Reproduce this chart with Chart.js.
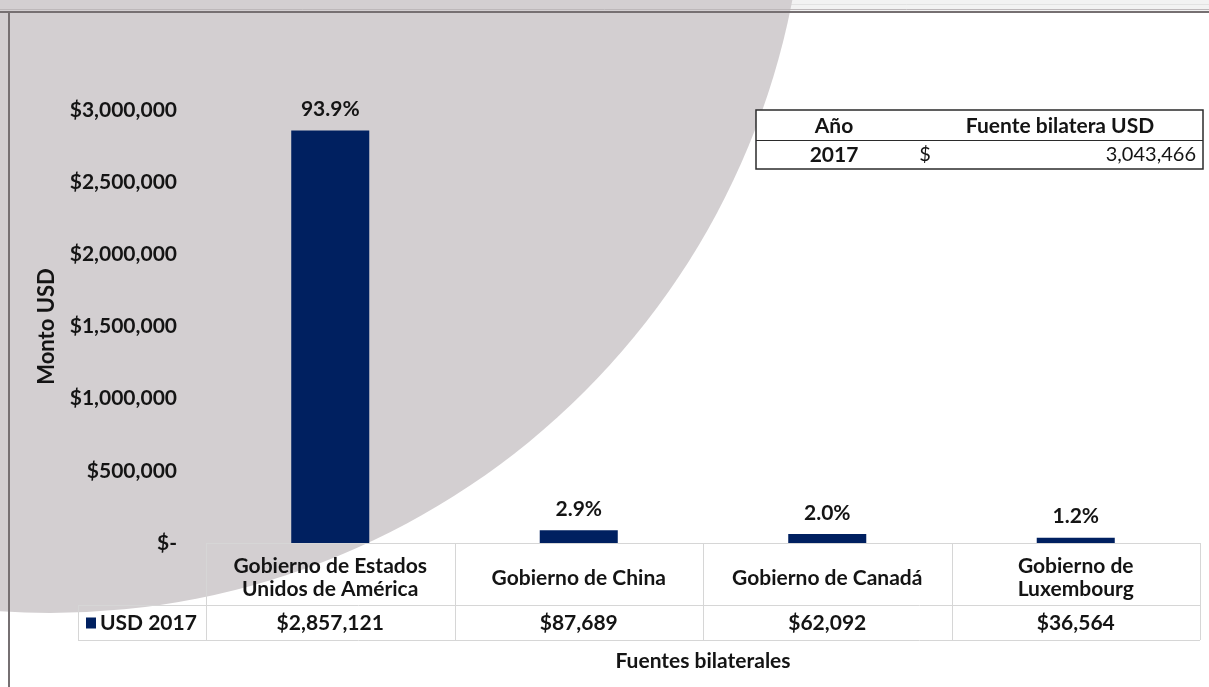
<!DOCTYPE html>
<html>
<head>
<meta charset="utf-8">
<script src="https://cdn.jsdelivr.net/npm/chart.js@4.4.1/dist/chart.umd.min.js"></script>
<style>
  html, body { margin: 0; padding: 0; background: #fff; overflow: hidden; }
  #wrap { position: relative; width: 1209px; height: 687px; }
  canvas { display: block; }
</style>
</head>
<body>
<div id="wrap"><canvas id="c" width="1209" height="687" style="width:1209px;height:687px"></canvas></div>
<script>
// Bilateral funding sources, 2017 (USD)
const categories = [
  ['Gobierno de Estados', 'Unidos de América'],
  ['Gobierno de China'],
  ['Gobierno de Canadá'],
  ['Gobierno de', 'Luxembourg']
];
const usd2017 = [2857121, 87689, 62092, 36564];
const seriesName = 'USD 2017';
const yTicks = [0, 500000, 1000000, 1500000, 2000000, 2500000, 3000000];
const yTitle = 'Monto USD';
const xTitle = 'Fuentes bilaterales';
const summaryHeader = ['Año', 'Fuente bilatera USD'];
const summaryYear = '2017';
const summaryTotal = 3043466;

const FONT = 'Lato, "Open Sans", sans-serif';
const NAVY = '#002060';
const INK = '#141414';
const GRIDLINE = '#d6d6d6';

const fmtMoney = v => v === 0 ? '$-' : '$' + v.toLocaleString('en-US');
const fmtPct = v => (v / summaryTotal * 100).toFixed(1) + '%';

// Page backdrop: frame lines and the large grey disc behind the plot
const backdrop = {
  id: 'backdrop',
  beforeDraw(chart) {
    const ctx = chart.ctx;
    const W = chart.width, H = chart.height;
    ctx.save();
    ctx.fillStyle = '#ffffff';
    ctx.fillRect(0, 0, W, H);
    ctx.fillStyle = '#f2f2f2';
    ctx.fillRect(0, 0, W, 11);
    ctx.strokeStyle = '#e2e2e2';
    ctx.lineWidth = 1;
    ctx.beginPath(); ctx.moveTo(0, 4.5); ctx.lineTo(W, 4.5); ctx.stroke();
    // grey disc
    ctx.fillStyle = '#d3cfd1';
    ctx.beginPath();
    ctx.arc(50, -143, 756, 0, Math.PI * 2);
    ctx.fill();
    // frame
    ctx.strokeStyle = '#767072';
    ctx.lineWidth = 2;
    ctx.beginPath(); ctx.moveTo(0, 12); ctx.lineTo(W, 12); ctx.stroke();
    ctx.beginPath(); ctx.moveTo(9, 12); ctx.lineTo(9, H); ctx.stroke();
    ctx.strokeStyle = '#bdb8ba';
    ctx.lineWidth = 1;
    ctx.beginPath(); ctx.moveTo(0, 9.5); ctx.lineTo(W, 9.5); ctx.stroke();
    ctx.restore();
  }
};

// Value labels, data table, axis titles and the summary box
const annotations = {
  id: 'annotations',
  afterDatasetsDraw(chart) {
    const ctx = chart.ctx;
    const area = chart.chartArea;
    const xs = chart.scales.x;
    const meta = chart.getDatasetMeta(0);
    ctx.save();
    ctx.fillStyle = INK;
    ctx.textAlign = 'center';
    ctx.textBaseline = 'middle';

    // percentage share above each bar
    ctx.font = 'bold 21px ' + FONT;
    meta.data.forEach((bar, i) => {
      ctx.fillText(fmtPct(usd2017[i]), bar.x, bar.y - 21);
    });

    // data table under the plot
    const step = xs.getPixelForValue(1) - xs.getPixelForValue(0);
    const edges = categories.map((_, i) => xs.getPixelForValue(i) - step / 2);
    edges.push(xs.getPixelForValue(categories.length - 1) + step / 2);
    const top = area.bottom;
    const mid = top + 62;
    const bot = mid + 35;
    const legendLeft = 78;

    ctx.strokeStyle = GRIDLINE;
    ctx.lineWidth = 1;
    ctx.beginPath();
    ctx.moveTo(edges[0], top + 0.5); ctx.lineTo(edges[edges.length - 1], top + 0.5);
    ctx.moveTo(legendLeft, mid + 0.5); ctx.lineTo(edges[edges.length - 1], mid + 0.5);
    ctx.moveTo(legendLeft, bot + 0.5); ctx.lineTo(edges[edges.length - 1], bot + 0.5);
    edges.forEach(x => { ctx.moveTo(Math.round(x) + 0.5, top); ctx.lineTo(Math.round(x) + 0.5, bot); });
    ctx.moveTo(legendLeft + 0.5, mid); ctx.lineTo(legendLeft + 0.5, bot);
    ctx.stroke();

    ctx.fillStyle = INK;
    ctx.font = 'bold 21px ' + FONT;
    categories.forEach((lines, i) => {
      const cx = xs.getPixelForValue(i);
      const cy = top + 35;
      const lh = 23;
      lines.forEach((t, k) => {
        ctx.fillText(t, cx, cy + (k - (lines.length - 1) / 2) * lh);
      });
      ctx.fillText(fmtMoney(usd2017[i]), cx, (mid + bot) / 2 + 1);
    });

    // legend key in the table
    ctx.fillStyle = NAVY;
    ctx.fillRect(86, (mid + bot) / 2 - 5, 10, 11);
    ctx.fillStyle = INK;
    ctx.textAlign = 'left';
    ctx.fillText(seriesName, 100, (mid + bot) / 2 + 1);

    // axis titles
    ctx.textAlign = 'center';
    ctx.font = 'bold 21px ' + FONT;
    ctx.fillText(xTitle, (area.left + area.right) / 2, bot + 21);
    ctx.save();
    ctx.translate(47, (area.top + area.bottom) / 2);
    ctx.rotate(-Math.PI / 2);
    ctx.font = 'bold 22px ' + FONT;
    ctx.fillText(yTitle, 0, 0);
    ctx.restore();

    // summary box
    const bx = 756, by = 110, bw = 447, bh = 59, rowH = 30;
    ctx.fillStyle = '#ffffff';
    ctx.fillRect(bx, by, bw, bh);
    ctx.strokeStyle = '#2b2b2b';
    ctx.lineWidth = 1.5;
    ctx.strokeRect(bx, by, bw, bh);
    ctx.lineWidth = 1;
    ctx.beginPath(); ctx.moveTo(bx, by + rowH + 0.5); ctx.lineTo(bx + bw, by + rowH + 0.5); ctx.stroke();
    ctx.fillStyle = INK;
    ctx.font = 'bold 21px ' + FONT;
    ctx.fillText(summaryHeader[0], 834, by + 16);
    ctx.fillText(summaryHeader[1], 1060, by + 16);
    ctx.fillText(summaryYear, 834, by + rowH + 15);
    ctx.font = '20px ' + FONT;
    ctx.fillText('$', 925, by + rowH + 15);
    ctx.textAlign = 'right';
    ctx.fillText(summaryTotal.toLocaleString('en-US'), 1196, by + rowH + 15);
    ctx.restore();
  }
};

new Chart(document.getElementById('c'), {
  type: 'bar',
  data: {
    labels: categories,
    datasets: [{
      label: seriesName,
      data: usd2017,
      backgroundColor: NAVY,
      borderWidth: 0,
      categoryPercentage: 1,
      barPercentage: 0.314
    }]
  },
  options: {
    responsive: false,
    animation: false,
    devicePixelRatio: 1,
    layout: { padding: { left: 0, right: 9, top: 110, bottom: 144 } },
    plugins: {
      legend: { display: false },
      tooltip: { enabled: false },
      title: { display: false }
    },
    scales: {
      x: {
        display: false,
        offset: true,
        grid: { display: false }
      },
      y: {
        min: 0,
        max: 3000000,
        afterBuildTicks: s => { s.ticks = yTicks.map(v => ({ value: v })); },
        afterFit: s => { s.width = 206; },
        grid: { display: false, drawTicks: false },
        border: { display: false },
        ticks: {
          padding: 29,
          color: INK,
          font: { family: FONT, size: 21, weight: 'bold' },
          callback: v => fmtMoney(v)
        }
      }
    }
  },
  plugins: [backdrop, annotations]
});
</script>
</body>
</html>
